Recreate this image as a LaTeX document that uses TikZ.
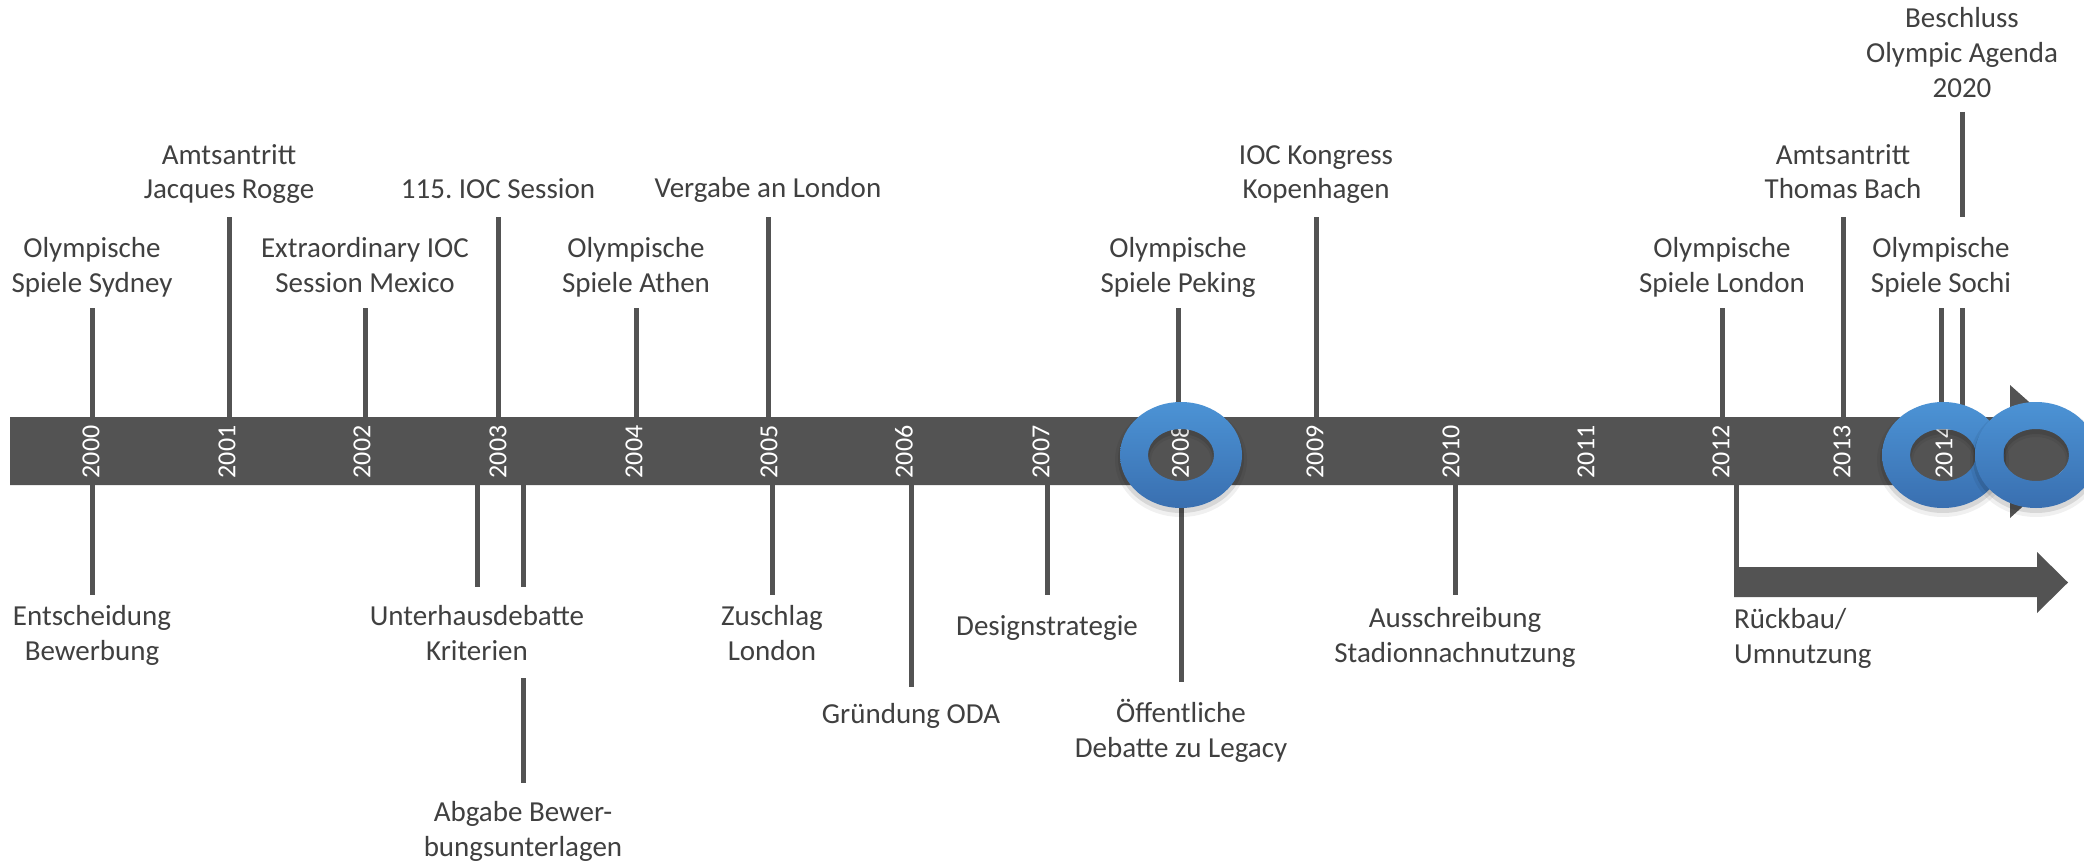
\documentclass[tikz,border=0pt]{standalone}
\usepackage{fontspec}
\setmainfont{Carlito}
\definecolor{barc}{RGB}{83,83,83}
\definecolor{txt}{RGB}{64,64,64}
\definecolor{ringtop}{RGB}{76,147,213}
\definecolor{ringbot}{RGB}{57,111,176}
\newcommand\lblfont{\fontsize{29}{35}\selectfont\frenchspacing}
\newcommand\yrfont{\fontsize{26}{30}\selectfont}
\begin{document}
\begin{tikzpicture}[x=1pt,y=-1pt,
  lbl/.style={font=\lblfont, text=txt, align=center, inner sep=0pt, anchor=base},
  tick/.style={draw=barc, line width=5pt},
  yr/.style={font=\yrfont, text=white, rotate=90, inner sep=0pt},
  olring/.pic={
    \fill[black, opacity=0.06, even odd rule] (0,5) ellipse [x radius=66, y radius=57] (0,5) ellipse [x radius=30, y radius=23];
    \fill[black, opacity=0.10, even odd rule] (0,4) ellipse [x radius=63, y radius=54] (0,4) ellipse [x radius=32, y radius=25];
    \shade[top color=ringtop, bottom color=ringbot, even odd rule] (0,0) ellipse [x radius=61, y radius=53] (0,0) ellipse [x radius=33, y radius=26];
  }]
\useasboundingbox (0,0) rectangle (2084,861);
\fill[white] (0,0) rectangle (2084,861);

% level coordinates
\coordinate (bt) at (0,417);
\coordinate (bb) at (0,485);
\coordinate (top3) at (0,112);
\coordinate (hi) at (0,217);
\coordinate (mid) at (0,308);
\coordinate (l1) at (0,595);
\coordinate (l2) at (0,587);
\coordinate (l3) at (0,678);
\coordinate (l4) at (0,783);
\coordinate (l5) at (0,687);
\coordinate (l6) at (0,682);
\coordinate (arrtop) at (0,570);

% labels above (anchored at the baseline of their last line)
\node[lbl] (sydney) at (92,292) {Olympische\\Spiele Sydney};
\node[lbl] (rogge) at (229,199) {Amtsantritt\\Jacques Rogge};
\node[lbl] (mexico) at (365,292) {Extraordinary IOC\\Session Mexico};
\node[lbl] (session) at (498,198) {115. IOC Session};
\node[lbl] (athen) at (636,292) {Olympische\\Spiele Athen};
\node[lbl] (vergabe) at (768,197) {Vergabe an London};
\node[lbl] (peking) at (1178,292) {Olympische\\Spiele Peking};
\node[lbl] (kongress) at (1316,199) {IOC Kongress\\Kopenhagen};
\node[lbl] (olondon) at (1722,292) {Olympische\\Spiele London};
\node[lbl] (bach) at (1843,199) {Amtsantritt\\Thomas Bach};
\node[lbl] (sochi) at (1941,292) {Olympische\\Spiele Sochi};
\node[lbl] (agenda) at (1962,98) {Beschluss\\Olympic Agenda\\2020};

% labels below
\node[lbl] (entsch) at (92,660) {Entscheidung\\Bewerbung};
\node[lbl] (unterh) at (477,660) {Unterhausdebatte\\Kriterien};
\node[lbl] (abgabe) at (523,856) {Abgabe Bewer-\\bungsunterlagen};
\node[lbl] (zuschlag) at (772,660) {Zuschlag\\London};
\node[lbl] (oda) at (911,723) {Gründung ODA};
\node[lbl] (design) at (1047,635) {Designstrategie};
\node[lbl] (legacy) at (1181,757) {Öffentliche\\Debatte zu Legacy};
\node[lbl] (aussch) at (1455,662) {Ausschreibung\\Stadionnachnutzung};
\node[lbl, anchor=base west, align=left] (rueck) at (1734,663) {Rückbau/\\Umnutzung};
\coordinate (rtick) at (1736.5,0);

% ticks above
\draw[tick] (sydney |- mid) -- (sydney |- bt);
\draw[tick] (rogge |- hi) -- (rogge |- bt);
\draw[tick] (mexico |- mid) -- (mexico |- bt);
\draw[tick] (session |- hi) -- (session |- bt);
\draw[tick] (athen |- mid) -- (athen |- bt);
\draw[tick] (vergabe |- hi) -- (vergabe |- bt);
\draw[tick] (peking |- mid) -- (peking |- bt);
\draw[tick] (kongress |- hi) -- (kongress |- bt);
\draw[tick] (olondon |- mid) -- (olondon |- bt);
\draw[tick] (bach |- hi) -- (bach |- bt);
\draw[tick] (sochi |- mid) -- (sochi |- bt);
\draw[tick] (agenda |- top3) -- (agenda |- hi);
\draw[tick] (agenda |- mid) -- (agenda |- bt);

% ticks below
\draw[tick] (entsch |- bb) -- (entsch |- l1);
\draw[tick] (unterh |- bb) -- (unterh |- l2);
\draw[tick] (abgabe |- bb) -- (abgabe |- l2);
\draw[tick] (abgabe |- l3) -- (abgabe |- l4);
\draw[tick] (zuschlag |- bb) -- (zuschlag |- l1);
\draw[tick] (oda |- bb) -- (oda |- l5);
\draw[tick] (design |- bb) -- (design |- l1);
\draw[tick] (legacy |- bb) -- (legacy |- l6);
\draw[tick] (aussch |- bb) -- (aussch |- l1);
\draw[tick] (rtick |- bb) -- (rtick |- arrtop);

% main bar with arrow head
\fill[barc] (10,417) -- (2010,417) -- (2010,385) -- (2084,451) -- (2010,518) -- (2010,485) -- (10,485) -- cycle;

% lower arrow
\fill[barc] (1734,567) -- (2037,567) -- (2037,552) -- (2068,582.5) -- (2037,613) -- (2037,597) -- (1734,597) -- cycle;

% years
\node[yr] (y2000) at (91,452) {2000};
\node[yr] (y2001) at (227,452) {2001};
\node[yr] (y2002) at (362,452) {2002};
\node[yr] (y2003) at (498,452) {2003};
\node[yr] (y2004) at (634,452) {2004};
\node[yr] (y2005) at (769,452) {2005};
\node[yr] (y2006) at (904,452) {2006};
\node[yr] (y2007) at (1041,452) {2007};
\node[yr] (y2008) at (1180,452) {2008};
\node[yr] (y2009) at (1315,452) {2009};
\node[yr] (y2010) at (1451,452) {2010};
\node[yr] (y2011) at (1586,452) {2011};
\node[yr] (y2012) at (1721,452) {2012};
\node[yr] (y2013) at (1842,452) {2013};
\node[yr] (y2014) at (1944,452) {2014};

% rings
\pic at (1181,455) {olring};
\pic at (1943,455) {olring};
\pic at (2036,455) {olring};
\end{tikzpicture}
\end{document}
